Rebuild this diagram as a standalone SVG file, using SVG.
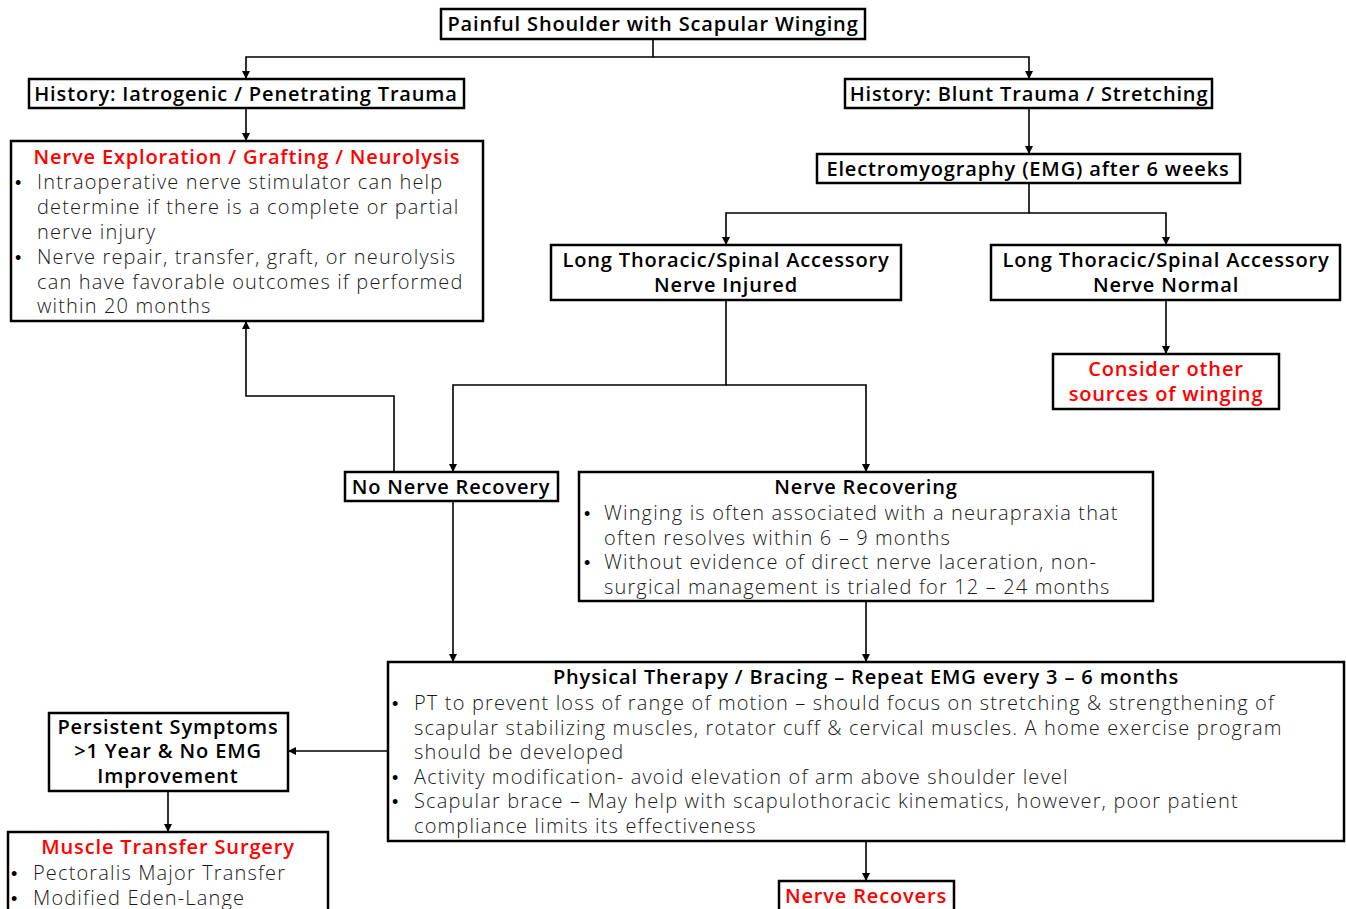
<svg xmlns="http://www.w3.org/2000/svg" width="1346" height="909" viewBox="0 0 1346 909">
<defs>
<marker id="ah" viewBox="0 0 10 10" refX="10" refY="5" markerWidth="8" markerHeight="8" markerUnits="userSpaceOnUse" orient="auto"><path d="M0,0 L10,5 L0,10 z" fill="#000"/></marker>
<style>
.box{fill:#fff;stroke:#000;stroke-width:2.5}
.h{font-family:"Open Sans","Liberation Sans",sans-serif;font-weight:600;font-size:20px;letter-spacing:0.85px;fill:#000}
.hc{text-anchor:middle}
.r{fill:#f00}
.b{font-family:"Open Sans","Liberation Sans",sans-serif;font-weight:300;font-size:20px;letter-spacing:1.15px;fill:#1a1a1a}
.d{font-family:"Liberation Sans",sans-serif;font-size:18px;fill:#000}
.c{fill:none;stroke:#000;stroke-width:1.6}
</style>
</defs>
<rect width="1346" height="909" fill="#fff"/>
<g id="connectors">
<path class="c" d="M653,39 V57 H246 V79" marker-end="url(#ah)"/>
<path class="c" d="M653,57 H1029 V79" marker-end="url(#ah)"/>
<path class="c" d="M246,108 V141" marker-end="url(#ah)"/>
<path class="c" d="M1029,108 V154" marker-end="url(#ah)"/>
<path class="c" d="M1029,183 V213 H726 V245" marker-end="url(#ah)"/>
<path class="c" d="M1029,213 H1166 V245" marker-end="url(#ah)"/>
<path class="c" d="M1166,300 V354" marker-end="url(#ah)"/>
<path class="c" d="M726,300 V385 H453 V472" marker-end="url(#ah)"/>
<path class="c" d="M726,385 H866 V472" marker-end="url(#ah)"/>
<path class="c" d="M394,472 V396 H246 V321" marker-end="url(#ah)"/>
<path class="c" d="M453,501 V662" marker-end="url(#ah)"/>
<path class="c" d="M866,601 V662" marker-end="url(#ah)"/>
<path class="c" d="M388,751 H288" marker-end="url(#ah)"/>
<path class="c" d="M168,791 V832" marker-end="url(#ah)"/>
<path class="c" d="M866,841 V881" marker-end="url(#ah)"/>
</g>
<g id="n-top">
<rect class="box" x="441" y="9" width="424" height="30"/>
<text class="h hc" x="653" y="31">Painful Shoulder with Scapular Winging</text>
</g>
<g id="n-hist-iat">
<rect class="box" x="29" y="79" width="435" height="29"/>
<text class="h hc" x="246" y="101">History: Iatrogenic / Penetrating Trauma</text>
</g>
<g id="n-hist-blunt">
<rect class="box" x="845" y="79" width="367" height="29"/>
<text class="h hc" x="1029" y="101">History: Blunt Trauma / Stretching</text>
</g>
<g id="n-explore">
<rect class="box" x="11" y="141" width="472" height="180"/>
<text class="h hc r" x="247" y="164">Nerve Exploration / Grafting / Neurolysis</text>
<text class="d" x="15" y="189">•</text>
<text class="b" x="37" y="189">Intraoperative nerve stimulator can help</text>
<text class="b" x="37" y="214">determine if there is a complete or partial</text>
<text class="b" x="37" y="239">nerve injury</text>
<text class="d" x="15" y="264">•</text>
<text class="b" x="37" y="264">Nerve repair, transfer, graft, or neurolysis</text>
<text class="b" x="37" y="289">can have favorable outcomes if performed</text>
<text class="b" x="37" y="313">within 20 months</text>
</g>
<g id="n-emg">
<rect class="box" x="817" y="154" width="423" height="29"/>
<text class="h hc" x="1028" y="176">Electromyography (EMG) after 6 weeks</text>
</g>
<g id="n-injured">
<rect class="box" x="551" y="245" width="350" height="55"/>
<text class="h hc" x="726" y="267">Long Thoracic/Spinal Accessory</text>
<text class="h hc" x="726" y="292">Nerve Injured</text>
</g>
<g id="n-normal">
<rect class="box" x="991" y="245" width="349" height="55"/>
<text class="h hc" x="1166" y="267">Long Thoracic/Spinal Accessory</text>
<text class="h hc" x="1166" y="292">Nerve Normal</text>
</g>
<g id="n-other">
<rect class="box" x="1053" y="354" width="226" height="55"/>
<text class="h hc r" x="1166" y="376">Consider other</text>
<text class="h hc r" x="1166" y="401">sources of winging</text>
</g>
<g id="n-norecovery">
<rect class="box" x="345" y="472" width="213" height="29"/>
<text class="h hc" x="451" y="494">No Nerve Recovery</text>
</g>
<g id="n-recovering">
<rect class="box" x="579" y="472" width="574" height="129"/>
<text class="h hc" x="866" y="494">Nerve Recovering</text>
<text class="d" x="584" y="520">•</text>
<text class="b" x="604" y="520">Winging is often associated with a neurapraxia that</text>
<text class="b" x="604" y="545">often resolves within 6 – 9 months</text>
<text class="d" x="584" y="569">•</text>
<text class="b" x="604" y="569">Without evidence of direct nerve laceration, non-</text>
<text class="b" x="604" y="594">surgical management is trialed for 12 – 24 months</text>
</g>
<g id="n-pt">
<rect class="box" x="388" y="662" width="956" height="179"/>
<text class="h hc" x="866" y="684">Physical Therapy / Bracing – Repeat EMG every 3 – 6 months</text>
<text class="d" x="392" y="710">•</text>
<text class="b" x="414" y="710">PT to prevent loss of range of motion – should focus on stretching &amp; strengthening of</text>
<text class="b" x="414" y="735">scapular stabilizing muscles, rotator cuff &amp; cervical muscles. A home exercise program</text>
<text class="b" x="414" y="759">should be developed</text>
<text class="d" x="392" y="784">•</text>
<text class="b" x="414" y="784">Activity modification- avoid elevation of arm above shoulder level</text>
<text class="d" x="392" y="808">•</text>
<text class="b" x="414" y="808">Scapular brace –  May help with scapulothoracic kinematics, however, poor patient</text>
<text class="b" x="414" y="833">compliance limits its effectiveness</text>
</g>
<g id="n-persistent">
<rect class="box" x="49" y="713" width="239" height="78"/>
<text class="h hc" x="168" y="734">Persistent Symptoms</text>
<text class="h hc" x="168" y="758">&gt;1 Year &amp; No EMG</text>
<text class="h hc" x="168" y="783">Improvement</text>
</g>
<g id="n-muscle">
<rect class="box" x="8" y="832" width="320" height="90"/>
<text class="h hc r" x="168" y="854">Muscle Transfer Surgery</text>
<text class="d" x="11" y="880">•</text>
<text class="b" x="33" y="880">Pectoralis Major Transfer</text>
<text class="d" x="11" y="905">•</text>
<text class="b" x="33" y="905">Modified Eden-Lange</text>
</g>
<g id="n-recovers">
<rect class="box" x="779" y="881" width="175" height="40"/>
<text class="h hc r" x="866" y="903">Nerve Recovers</text>
</g>
</svg>
